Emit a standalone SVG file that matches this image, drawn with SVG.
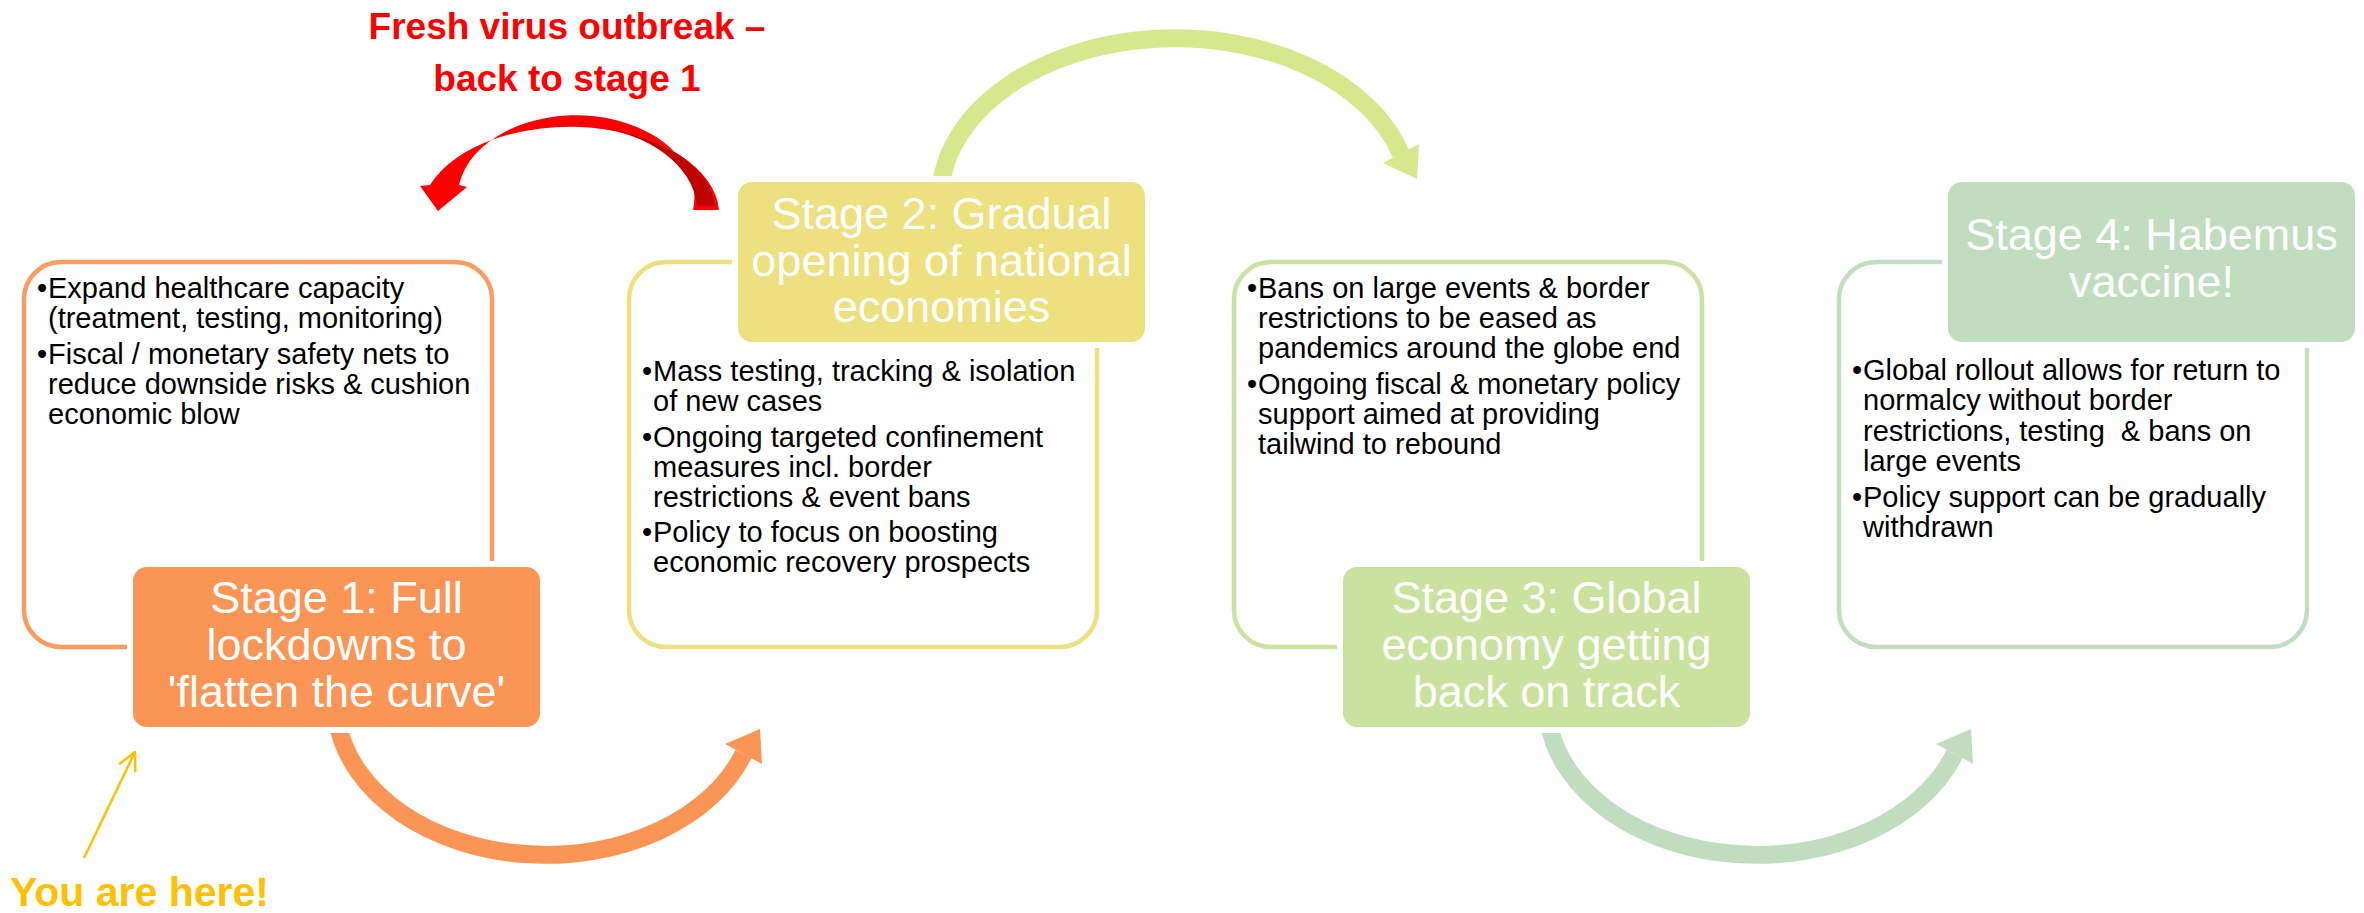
<svg xmlns="http://www.w3.org/2000/svg" width="2364" height="913" viewBox="0 0 2364 913">
<style>
  text { font-family: "Liberation Sans", Arial, sans-serif; }
  .body { font-size: 29px; fill: #000000; }
  .title { font-size: 45px; fill: #FFFFFF; text-anchor: middle; }
  .outline { fill: #FFFFFF; stroke-width: 4.5; }
  .halo { fill: #FFFFFF; }
  .band { fill: none; stroke-width: 18; stroke-linecap: butt; }
  .note { font-weight: bold; font-size: 37px; fill: #FF0000; text-anchor: middle; }
  .here { font-weight: bold; font-size: 41px; fill: #FFC000; }
</style>
<defs>
  <marker id="openArrow" viewBox="0 0 20 20" refX="19" refY="10" markerWidth="20" markerHeight="20" markerUnits="userSpaceOnUse" orient="auto">
    <path d="M1,1 L19,10 L1,19" fill="none" stroke="#FFC000" stroke-width="2.5"/>
  </marker>
</defs>
<rect width="2364" height="913" fill="#FFFFFF"/>

<g id="connectors">
  <!-- Stage 1 -> Stage 2 (orange, bottom) -->
  <path class="band" stroke="#FA9555" d="M338,725 A210 152 0 0 0 743.5,754"/>
  <polygon fill="#FA9555" points="725,744 760,729 762,764"/>
  <!-- Stage 2 -> Stage 3 (yellow-green, top) -->
  <path class="band" stroke="#D7E78B" d="M941,185 A235 160 0 0 1 1401,154"/>
  <polygon fill="#D7E78B" points="1383,163 1419,144 1417,179"/>
  <!-- Stage 3 -> Stage 4 (pale green, bottom) -->
  <path class="band" stroke="#C1DDBF" d="M1549,725 A210 152 0 0 0 1954.5,754"/>
  <polygon fill="#C1DDBF" points="1936,744 1971,729 1973,764"/>
  <!-- Fresh outbreak: Stage 2 -> Stage 1 (red) -->
  <path fill="#FF0000" d="M719,210 A149 88 0 0 0 430,185 L420,186 L438,211 L467,187 L459,185 A118 82 0 0 1 693,210 Z"/>
  <path fill="#C00000" d="M588,127 A145 84 0 0 1 715,206 L697,206 A121 85 0 0 0 588,127 Z"/>
  <!-- You are here pointer -->
  <line x1="84" y1="858" x2="135" y2="752" stroke="#FFC000" stroke-width="2.5" marker-end="url(#openArrow)"/>
</g>

<g id="stage1">
  <rect class="outline" stroke="#F99C5F" x="24" y="262" width="468" height="385" rx="37"/>
  <rect class="halo" x="127" y="561" width="419" height="172" rx="20"/>
  <rect fill="#FA9555" x="133" y="567" width="407" height="160" rx="14"/>
  <text class="title" x="336.5" y="613">Stage 1: Full</text>
  <text class="title" x="336.5" y="660">lockdowns to</text>
  <text class="title" x="336.5" y="707">'flatten the curve'</text>
  <text class="body" x="37" y="298">•</text>
  <text class="body" x="48" y="298">Expand healthcare capacity</text>
  <text class="body" x="48" y="328">(treatment, testing, monitoring)</text>
  <text class="body" x="37" y="364">•</text>
  <text class="body" x="48" y="364">Fiscal / monetary safety nets to</text>
  <text class="body" x="48" y="394">reduce downside risks &amp; cushion</text>
  <text class="body" x="48" y="424">economic blow</text>
</g>

<g id="stage2">
  <rect class="outline" stroke="#EDE07E" x="629" y="262" width="468" height="385" rx="37"/>
  <rect class="halo" x="732" y="176" width="419" height="172" rx="20"/>
  <rect fill="#EDE07E" x="738" y="182" width="407" height="160" rx="14"/>
  <text class="title" x="941.5" y="229">Stage 2: Gradual</text>
  <text class="title" x="941.5" y="276">opening of national</text>
  <text class="title" x="941.5" y="322">economies</text>
  <text class="body" x="642" y="381">•</text>
  <text class="body" x="653" y="381">Mass testing, tracking &amp; isolation</text>
  <text class="body" x="653" y="411">of new cases</text>
  <text class="body" x="642" y="447">•</text>
  <text class="body" x="653" y="447">Ongoing targeted confinement</text>
  <text class="body" x="653" y="477">measures incl. border</text>
  <text class="body" x="653" y="507">restrictions &amp; event bans</text>
  <text class="body" x="642" y="542">•</text>
  <text class="body" x="653" y="542">Policy to focus on boosting</text>
  <text class="body" x="653" y="572">economic recovery prospects</text>
</g>

<g id="stage3">
  <rect class="outline" stroke="#CBE3A2" x="1234" y="262" width="468" height="385" rx="37"/>
  <rect class="halo" x="1337" y="561" width="419" height="172" rx="20"/>
  <rect fill="#C9E39F" x="1343" y="567" width="407" height="160" rx="14"/>
  <text class="title" x="1546.5" y="613">Stage 3: Global</text>
  <text class="title" x="1546.5" y="660">economy getting</text>
  <text class="title" x="1546.5" y="707">back on track</text>
  <text class="body" x="1247" y="298">•</text>
  <text class="body" x="1258" y="298">Bans on large events &amp; border</text>
  <text class="body" x="1258" y="328">restrictions to be eased as</text>
  <text class="body" x="1258" y="358">pandemics around the globe end</text>
  <text class="body" x="1247" y="394">•</text>
  <text class="body" x="1258" y="394">Ongoing fiscal &amp; monetary policy</text>
  <text class="body" x="1258" y="424">support aimed at providing</text>
  <text class="body" x="1258" y="454">tailwind to rebound</text>
</g>

<g id="stage4">
  <rect class="outline" stroke="#C2DDC0" x="1839" y="262" width="468" height="385" rx="37"/>
  <rect class="halo" x="1942" y="176" width="419" height="172" rx="20"/>
  <rect fill="#C1DDBF" x="1948" y="182" width="407" height="160" rx="14"/>
  <text class="title" x="2151.5" y="250">Stage 4: Habemus</text>
  <text class="title" x="2151.5" y="297">vaccine!</text>
  <text class="body" x="1852" y="380">•</text>
  <text class="body" x="1863" y="380">Global rollout allows for return to</text>
  <text class="body" x="1863" y="410">normalcy without border</text>
  <text class="body" x="1863" y="441" xml:space="preserve">restrictions, testing  &amp; bans on</text>
  <text class="body" x="1863" y="471">large events</text>
  <text class="body" x="1852" y="507">•</text>
  <text class="body" x="1863" y="507">Policy support can be gradually</text>
  <text class="body" x="1863" y="537">withdrawn</text>
</g>

<g id="label-outbreak">
  <text class="note" x="567" y="39">Fresh virus outbreak –</text>
  <text class="note" x="567" y="91">back to stage 1</text>
</g>

<g id="label-here">
  <text class="here" x="10" y="906">You are here!</text>
</g>
</svg>
